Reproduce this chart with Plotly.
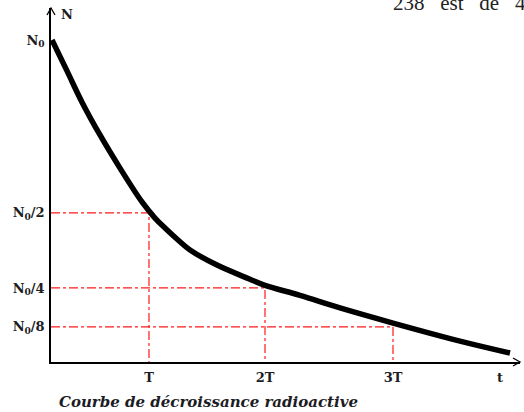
import plotly.graph_objects as go

# Decay curve N(t), abscissa in drawing units (T, 2T, 3T marked), ordinate as fraction of N0
t_curve = [0.01, 0.16, 0.31, 0.49, 0.69, 0.91, 1.04, 1.14, 1.27, 1.39, 1.66, 1.99, 2.14,
           2.49, 2.89, 3.42, 4.09, 4.59]
n_curve = [1.000, 0.904, 0.807, 0.705, 0.602, 0.497, 0.447, 0.416, 0.379, 0.348, 0.301, 0.257,
           0.238, 0.207, 0.168, 0.121, 0.065, 0.028]

# Half-life marks: time positions and the matching ordinates
half_t = [0.98, 2.14, 3.42]
half_n = [0.463, 0.230, 0.109]

x_tickvals = [0.98, 2.14, 3.42, 4.49]
x_ticktext = ["T", "2T", "3T", "t"]
y_tickvals = [1.0, 0.463, 0.230, 0.109]
y_ticktext = ["N<sub>0</sub>", "N<sub>0</sub>/2", "N<sub>0</sub>/4", "N<sub>0</sub>/8"]

X_MAX = 4.69
Y_MAX = 1.0994

W, H = 524, 412
ML, MR, MT, MB = 51, 4, 8, 50
PW = W - ML - MR
PH = H - MT - MB

LABEL_FONT = dict(family="DejaVu Serif", size=13, color="#1c1c24", weight="bold")

fig = go.Figure()

# dash-dot guides from each axis to the curve
for tx, ny in zip(half_t, half_n):
    fig.add_trace(go.Scatter(
        x=[0, tx, tx], y=[ny, ny, 0], mode="lines",
        line=dict(color="#ff1a1a", width=1.2, dash="dashdot"),
        hoverinfo="skip", showlegend=False,
    ))

fig.add_trace(go.Scatter(
    x=t_curve, y=n_curve, mode="lines",
    line=dict(color="black", width=5.5, shape="spline", smoothing=1.0),
    showlegend=False,
))


def px_x(v):
    return v / PW


def px_y(v):
    return v / PH


# open arrowheads at the ends of both axes
shapes = [
    dict(type="path", xref="paper", yref="paper",
         path=f"M {px_x(-4)},{1 - px_y(7)} L 0,1 L {px_x(4)},{1 - px_y(7)}",
         line=dict(color="black", width=1.3)),
    dict(type="path", xref="paper", yref="paper",
         path=f"M {1 - px_x(7)},{px_y(4)} L 1,0 L {1 - px_x(7)},{px_y(-4)}",
         line=dict(color="black", width=1.3)),
]

annotations = [
    dict(text="N", xref="paper", yref="paper", x=px_x(8), y=1 - px_y(7),
         xanchor="left", yanchor="middle", showarrow=False, font=LABEL_FONT),
    dict(text="<b><i>Courbe de décroissance radioactive</i></b>",
         xref="paper", yref="paper", x=px_x(57 - ML), y=-px_y(40),
         xanchor="left", yanchor="middle", showarrow=False,
         font=dict(family="DejaVu Serif", size=15, color="#1c1c24")),
    dict(text="238\u2002 est\u2002 de\u2002 4", xref="paper", yref="paper",
         x=px_x(391 - ML), y=1 + px_y(MT - 3),
         xanchor="left", yanchor="middle", showarrow=False,
         font=dict(family="Liberation Serif", size=21, color="#222")),
]

fig.update_layout(
    width=W, height=H, autosize=False,
    margin=dict(l=ML, r=MR, t=MT, b=MB, pad=0),
    paper_bgcolor="white", plot_bgcolor="white",
    shapes=shapes, annotations=annotations,
    xaxis=dict(range=[0, X_MAX], showgrid=False, zeroline=False,
               showline=True, linecolor="black", linewidth=1.5,
               tickvals=x_tickvals, ticktext=x_ticktext, ticks="",
               ticklabelstandoff=3, tickfont=LABEL_FONT),
    yaxis=dict(range=[0, Y_MAX], showgrid=False, zeroline=False,
               showline=True, linecolor="black", linewidth=1.5,
               tickvals=y_tickvals, ticktext=y_ticktext, ticks="",
               ticklabelstandoff=2, tickfont=LABEL_FONT),
)

fig.write_html("out.html")
